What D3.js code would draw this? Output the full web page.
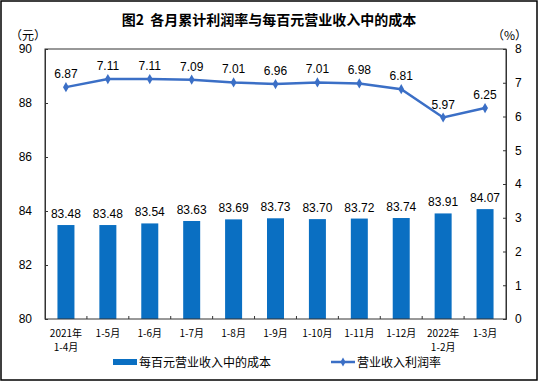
<!DOCTYPE html>
<html>
<head>
<meta charset="utf-8">
<script src="https://cdn.jsdelivr.net/npm/d3@7"></script>
<style>
  body { margin: 0; background: #fff; }
  text { font-family: "Liberation Sans", Arial, "Noto Sans CJK SC", sans-serif; }
  .cjk { font-family: "Noto Sans CJK SC", sans-serif; }
</style>
</head>
<body>
<svg id="chart" width="538" height="381"></svg>
<script>
const months = ["2021年\n1-4月", "1-5月", "1-6月", "1-7月", "1-8月", "1-9月", "1-10月", "1-11月", "1-12月", "2022年\n1-2月", "1-3月"];
const costPer100 = [83.48, 83.48, 83.54, 83.63, 83.69, 83.73, 83.70, 83.72, 83.74, 83.91, 84.07];
const profitRate = [6.87, 7.11, 7.11, 7.09, 7.01, 6.96, 7.01, 6.98, 6.81, 5.97, 6.25];
const leftTicks = [80, 82, 84, 86, 88, 90];
const rightTicks = [0, 1, 2, 3, 4, 5, 6, 7, 8];

const margin = { top: 49, right: 32, bottom: 62, left: 45 };
const W = 538, H = 381;
const width = W - margin.left - margin.right;
const height = H - margin.top - margin.bottom;

const barColor = "#0a6fc2";
const lineColor = "#3b6fc6";

const svg = d3.select("#chart");

svg.append("rect")
  .attr("x", 1).attr("y", 1)
  .attr("width", W - 2).attr("height", H - 2)
  .attr("fill", "#fff").attr("stroke", "#000").attr("stroke-width", 1.5);

svg.append("text")
  .attr("class", "cjk")
  .attr("x", W / 2).attr("y", 25)
  .attr("text-anchor", "middle")
  .attr("font-size", 14).attr("font-weight", "bold")
  .style("white-space", "pre")
  .text("图2  各月累计利润率与每百元营业收入中的成本");

svg.append("text").attr("class", "cjk")
  .attr("x", 10).attr("y", 40).attr("font-size", 12)
  .text("（元）");
svg.append("text").attr("class", "cjk")
  .attr("x", 492).attr("y", 40).attr("font-size", 12)
  .text("（%）");

const g = svg.append("g").attr("transform", `translate(${margin.left},${margin.top})`);

const band = d3.scaleBand().domain(months).range([0, width]);
const yL = d3.scaleLinear().domain([80, 90]).range([height, 0]);
const yR = d3.scaleLinear().domain([0, 8]).range([height, 0]);
const cx = i => band(months[i]) + band.bandwidth() / 2;

// bars
g.selectAll("rect.bar").data(costPer100).enter().append("rect")
  .attr("class", "bar")
  .attr("x", (d, i) => cx(i) - 8.5)
  .attr("width", 17)
  .attr("y", d => yL(d))
  .attr("height", d => height - yL(d))
  .attr("fill", barColor);

g.selectAll("text.barlbl").data(costPer100).enter().append("text")
  .attr("class", "barlbl")
  .attr("x", (d, i) => cx(i))
  .attr("y", d => yL(d) - 7)
  .attr("text-anchor", "middle")
  .attr("font-size", 12)
  .text(d => d.toFixed(2));

// frame
g.append("rect").attr("width", width).attr("height", height)
  .attr("fill", "none").attr("stroke", "#333").attr("stroke-width", 1);

// axes
const axL = g.append("g").call(d3.axisLeft(yL).tickValues(leftTicks).tickSize(-3).tickPadding(13));
const axR = g.append("g").attr("transform", `translate(${width},0)`)
  .call(d3.axisRight(yR).tickValues(rightTicks).tickSize(-3).tickPadding(9));
[axL, axR].forEach(a => {
  a.select(".domain").attr("stroke", "#333");
  a.selectAll("line").attr("stroke", "#333");
  a.selectAll("text").attr("font-size", 12).attr("fill", "#000")
    .style("font-family", "'Liberation Sans', Arial, sans-serif");
});

// category ticks
g.selectAll("line.ctick").data(months.slice(1)).enter().append("line")
  .attr("x1", d => band(d)).attr("x2", d => band(d))
  .attr("y1", height).attr("y2", height - 3)
  .attr("stroke", "#333");

// x labels
const xl = g.selectAll("text.xl").data(months).enter().append("text")
  .attr("class", "xl cjk")
  .attr("text-anchor", "middle")
  .attr("font-size", 10)
  .attr("transform", (d, i) => `translate(${cx(i)},${height + 18})`);
xl.selectAll("tspan").data(d => d.split("\n")).enter().append("tspan")
  .attr("x", 0).attr("dy", (d, i) => i === 0 ? 0 : 14)
  .text(d => d);

// line
const line = d3.line()
  .x((d, i) => cx(i))
  .y(d => yR(d));
g.append("path").datum(profitRate)
  .attr("d", line).attr("fill", "none")
  .attr("stroke", lineColor).attr("stroke-width", 2.5);

g.selectAll("path.mk").data(profitRate).enter().append("path")
  .attr("class", "mk")
  .attr("d", d3.symbol(d3.symbolDiamond, 30))
  .attr("transform", (d, i) => `translate(${cx(i)},${yR(d)})`)
  .attr("fill", lineColor);

g.selectAll("text.ll").data(profitRate).enter().append("text")
  .attr("class", "ll")
  .attr("x", (d, i) => cx(i))
  .attr("y", d => yR(d) - 9)
  .attr("text-anchor", "middle")
  .attr("font-size", 12)
  .text(d => d.toFixed(2));

// legend
const lg = svg.append("g").attr("transform", "translate(0,362)");
lg.append("rect").attr("x", 113).attr("y", -3).attr("width", 24).attr("height", 6).attr("fill", barColor);
lg.append("text").attr("class", "cjk").attr("x", 139).attr("y", 5).attr("font-size", 12)
  .text("每百元营业收入中的成本");
lg.append("line").attr("x1", 331).attr("x2", 355).attr("y1", 0).attr("y2", 0)
  .attr("stroke", lineColor).attr("stroke-width", 2.5);
lg.append("path").attr("d", d3.symbol(d3.symbolDiamond, 24)).attr("transform", "translate(343,0)").attr("fill", lineColor);
lg.append("text").attr("class", "cjk").attr("x", 357).attr("y", 5).attr("font-size", 12)
  .text("营业收入利润率");
</script>
</body>
</html>
